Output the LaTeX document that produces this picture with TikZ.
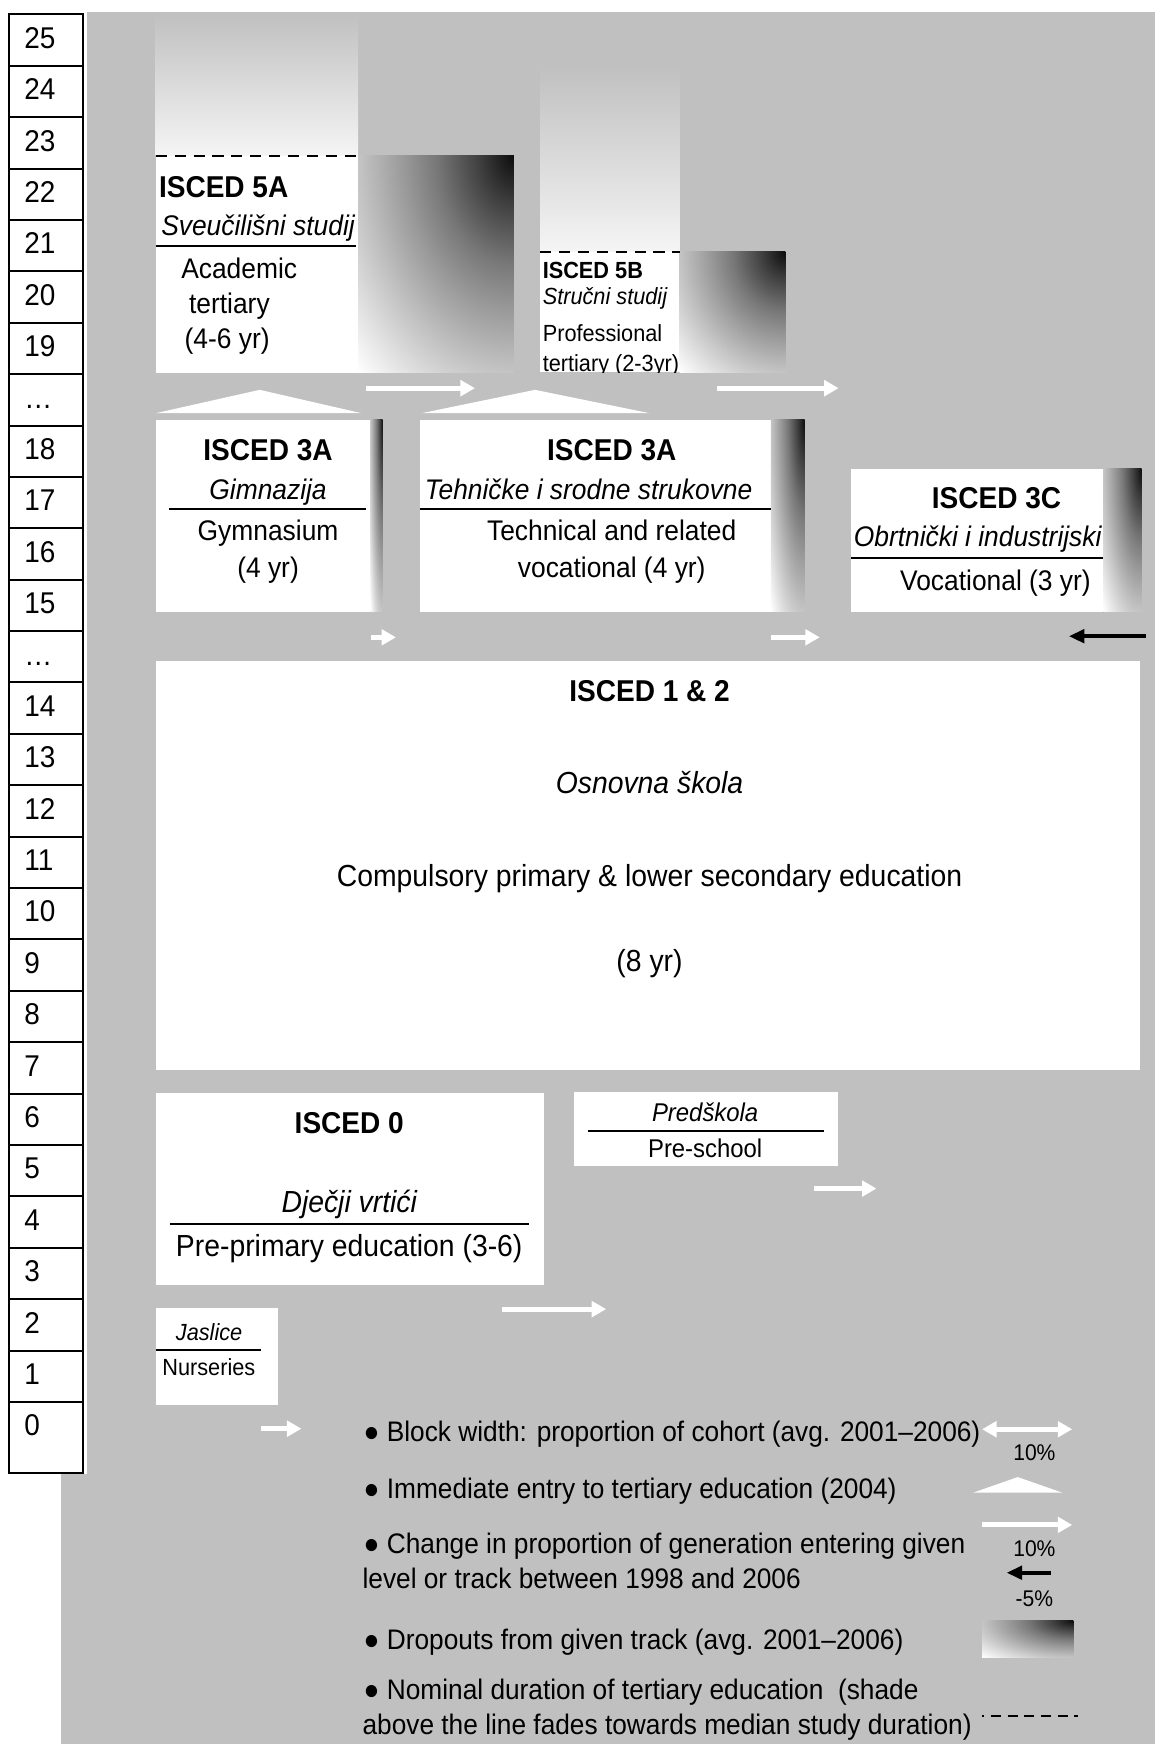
\documentclass[tikz,border=0pt]{standalone}
\usepackage{fontspec}
\setmainfont[FakeStretch=0.93]{Liberation Sans}
\usetikzlibrary{arrows.meta}
\definecolor{bggray}{RGB}{192,192,192}
\pgfdeclareradialshading{dropsh}{\pgfpointorigin}{color(0bp)=(black!95!white); color(4bp)=(white!25!black); color(8.84bp)=(white!47!black); color(12.5bp)=(white!60!black); color(17.68bp)=(white!77!black); color(25bp)=(white); color(50bp)=(white)}
\newcommand\DropBox[4]{%
  \begin{scope}
  \clip (#1,#2) rectangle (#3,#4);
  \shade[shading=dropsh] ({#3-1.414*(#3-#1)},{#2-1.414*(#4-#2)}) rectangle ({#3+1.414*(#3-#1)},{#2+1.414*(#4-#2)});
  \end{scope}}
\newcommand\TitleF{\bfseries\fontsize{27.1pt}{30pt}\selectfont}
\newcommand\BodyF{\fontsize{25.5pt}{30pt}\selectfont}
\newcommand\BigF{\fontsize{27.4pt}{30pt}\selectfont}
\newcommand\SmallF{\fontsize{21pt}{24pt}\selectfont}
\newcommand\MidF{\fontsize{23.1pt}{26pt}\selectfont}
\newcommand\TinyF{\fontsize{20.4pt}{24pt}\selectfont}
\newcommand\AgeF{\fontsize{27pt}{30pt}\selectfont}
\newcommand\LegF{\fontsize{25.4pt}{30pt}\selectfont}
\tikzset{
  txt/.style={inner sep=0pt, outer sep=0pt, anchor=base},
  txtl/.style={inner sep=0pt, outer sep=0pt, anchor=base west},
  fadebox/.style={shading=axis, top color=bggray, bottom color=white!96!black},
  rulel/.style={line width=1.8pt, black},
  durline/.style={line width=1.8pt, dash pattern=on 10pt off 7pt},
  uparrow/.style={draw=white, line width=4.6pt, -{Triangle[length=13pt,width=14pt]}},
  downarrow/.style={draw=black, line width=3.8pt, -{Triangle[length=14pt,width=12pt]}},
  entryshape/.style={fill=white, draw=none},
}
\begin{document}
\begin{tikzpicture}[x=1pt,y=-1pt]
\useasboundingbox (0,0) rectangle (1038,1568);
\fill[bggray] (55,11) rectangle (1038,1568);
\fill[white] (0,0) rectangle (78,1325);
% age column
\foreach \lab [count=\k from 0] in {25,24,23,22,21,20,19,…,18,17,16,15,…,14,13,12,11,10,9,8,7,6,5,4,3,2,1,0} {
  \node[txtl, font=\AgeF] (age\k) at (22,13+46.2*\k+30.5) {\lab};
}
\draw[line width=1.8pt] (8,13) rectangle (75,1324);
\foreach \k in {1,...,27} \draw[line width=1.8pt] (8,13+46.2*\k) -- (75,13+46.2*\k);

% ISCED 5A
\shade[fadebox] (140,12) rectangle (322,140);
\fill[white] (140,140) rectangle (322,335);
\DropBox{322}{140}{462}{335}
\draw[durline] (140,140) -- (322,140);
\node[txtl,font=\TitleF] (t5a) at (143,178) {ISCED 5A};
\node[txtl,font=\BodyF\itshape] (n5a) at (145,212) {Sveučilišni studij};
\draw[rulel] (140,221) -- (320,221);
\node[txtl,font=\BodyF] (e5a1) at (163,250) {Academic};
\node[txtl,font=\BodyF] (e5a2) at (170,281.5) {tertiary};
\node[txtl,font=\BodyF] (e5a3) at (166,313) {(4-6 yr)};

% ISCED 5B
\shade[fadebox] (485.5,60) rectangle (611,226.5);
\fill[white] (485.5,226.5) rectangle (611,334.5);
\DropBox{611}{226.5}{706}{334.5}
\draw[durline] (485.5,226.5) -- (611,226.5);
\begin{scope}
\clip (485.5,226.5) rectangle (611,334.5);
\node[txtl,font=\SmallF\bfseries] (t5b) at (488,250.8) {ISCED 5B};
\node[txtl,font=\SmallF\itshape] (n5b) at (488,273.5) {Stručni studij};
\node[txtl,font=\SmallF] (e5b1) at (488,307) {Professional};
\node[txtl,font=\SmallF] (e5b2) at (488,334) {tertiary (2-3yr)};
\end{scope}

% tertiary change arrows
\coordinate (a1s) at (329,349); \coordinate (a1e) at (427,349);
\draw[uparrow] (a1s) -- (a1e);
\coordinate (a2s) at (645,349); \coordinate (a2e) at (754,349);
\draw[uparrow] (a2s) -- (a2e);

% immediate entry triangles
\fill[entryshape] (140,371.5) -- (233.5,350.5) -- (325,371.5) -- cycle;
\fill[entryshape] (379,371.5) -- (481,350.5) -- (584,371.5) -- cycle;

% ISCED 3A gymnasium
\fill[white] (140,377.5) rectangle (333,550);
\DropBox{333}{377.5}{344}{550}
\node[txt,font=\TitleF] (t3a) at (241,414) {ISCED 3A};
\node[txt,font=\BodyF\itshape] (n3a) at (241,449) {Gimnazija};
\draw[rulel] (152,457.7) -- (329,457.7);
\node[txt,font=\BodyF] (e3a1) at (241,486) {Gymnasium};
\node[txt,font=\BodyF] (e3a2) at (241,519) {(4 yr)};

% ISCED 3A technical
\fill[white] (377.5,377.5) rectangle (693,550);
\DropBox{693}{377.5}{723.5}{550}
\node[txt,font=\TitleF] (t3at) at (550,414) {ISCED 3A};
\node[txtl,font=\BodyF\itshape] (n3at) at (382,449) {Tehničke i srodne strukovne};
\draw[rulel] (377.5,457.7) -- (693,457.7);
\node[txt,font=\BodyF] (e3at1) at (550,486) {Technical and related};
\node[txt,font=\BodyF] (e3at2) at (550,519) {vocational (4 yr)};

% ISCED 3C
\fill[white] (765.5,421.5) rectangle (992,550);
\DropBox{992}{421.5}{1026.5}{550}
\node[txt,font=\TitleF] (t3c) at (896,457) {ISCED 3C};
\node[txt,font=\BodyF\itshape] (n3c) at (879,491.5) {Obrtnički i industrijski};
\draw[rulel] (765.5,501.5) -- (992,501.5);
\node[txt,font=\BodyF] (e3c) at (895,530.5) {Vocational (3 yr)};

% upper secondary change arrows
\coordinate (a3s) at (334,573); \coordinate (a3e) at (356,573);
\draw[uparrow] (a3s) -- (a3e);
\coordinate (a4s) at (693,573); \coordinate (a4e) at (737,573);
\draw[uparrow] (a4s) -- (a4e);
\coordinate (a5s) at (1030,572); \coordinate (a5e) at (961,572);
\draw[downarrow] (a5s) -- (a5e);

% ISCED 1 & 2
\fill[white] (140,594) rectangle (1025,962);
\node[txt,font=\TitleF] (t12) at (584,630.5) {ISCED 1 \& 2};
\node[txt,font=\BigF\itshape] (n12) at (584,713) {Osnovna škola};
\node[txt,font=\BigF] (e12a) at (584,797) {Compulsory primary \& lower secondary education};
\node[txt,font=\BigF] (e12b) at (584,873.3) {(8 yr)};

% ISCED 0
\fill[white] (140,983) rectangle (489,1155.7);
\node[txt,font=\TitleF] (t0) at (314,1019.5) {ISCED 0};
\node[txt,font=\BigF\itshape] (n0) at (314,1090) {Dječji vrtići};
\draw[rulel] (152.8,1100.5) -- (476,1100.5);
\node[txt,font=\BigF] (e0) at (314,1129.4) {Pre-primary education (3-6)};

% Predskola
\fill[white] (516,982) rectangle (753,1048);
\node[txt,font=\MidF\itshape] (npre) at (634,1008) {Predškola};
\draw[rulel] (528.6,1017) -- (740.5,1017);
\node[txt,font=\MidF] (epre) at (634,1041) {Pre-school};
\coordinate (a6s) at (731.5,1068.6); \coordinate (a6e) at (788,1068.6);
\draw[uparrow] (a6s) -- (a6e);
\coordinate (a7s) at (451,1177); \coordinate (a7e) at (545,1177);
\draw[uparrow] (a7s) -- (a7e);

% Jaslice
\fill[white] (140,1176.4) rectangle (249.6,1263);
\node[txt,font=\SmallF\itshape] (njas) at (188,1205.5) {Jaslice};
\draw[rulel] (140,1214) -- (235,1214);
\node[txtl,font=\SmallF] (ejas) at (146,1237) {Nurseries};
\coordinate (a8s) at (235,1284.5); \coordinate (a8e) at (271,1284.5);
\draw[uparrow] (a8s) -- (a8e);

% legend
\node[txtl,font=\LegF] (l1) at (327,1296) {● Block width: proportion of cohort (avg. 2001–2006)};
\coordinate (lw1) at (883,1285); \coordinate (lw2) at (964,1285);
\draw[white, line width=4.6pt, {Triangle[length=13pt,width=14pt]}-{Triangle[length=13pt,width=14pt]}] (lw1) -- (lw2);
\node[txt,font=\TinyF] (p1) at (930,1313.5) {10\%};
\node[txtl,font=\LegF] (l2) at (327,1347) {● Immediate entry to tertiary education (2004)};
\fill[entryshape] (875,1342) -- (915,1328) -- (955,1342) -- cycle;
\node[txtl,font=\LegF] (l3) at (327,1396.5) {● Change in proportion of generation entering given};
\node[txtl,font=\LegF] (l3b) at (326,1428) {level or track between 1998 and 2006};
\coordinate (lc1) at (883,1371); \coordinate (lc2) at (964,1371);
\draw[uparrow] (lc1) -- (lc2);
\node[txt,font=\TinyF] (p2) at (930,1399.6) {10\%};
\coordinate (ld1) at (945,1414); \coordinate (ld2) at (905,1414);
\draw[downarrow] (ld1) -- (ld2);
\node[txt,font=\TinyF] (p3) at (930,1444) {-5\%};
\node[txtl,font=\LegF] (l4) at (327,1483) {● Dropouts from given track (avg. 2001–2006)};
\DropBox{883}{1457}{965}{1490}
\node[txtl,font=\LegF] (l5) at (327,1528) {● Nominal duration of tertiary education\ \ (shade};
\node[txtl,font=\LegF] (l5b) at (326,1559.5) {above the line fades towards median study duration)};
\coordinate (ln1) at (883,1543); \coordinate (ln2) at (969,1543);
\draw[line width=1.8pt, dash pattern=on 9pt off 6pt, dash phase=7pt] (ln1) -- (ln2);
\end{tikzpicture}
\end{document}
